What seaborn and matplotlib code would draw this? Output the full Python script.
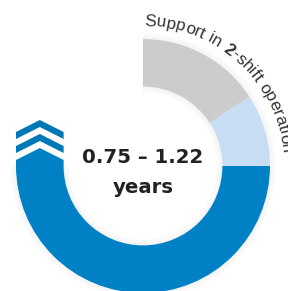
"""Donut chart: support duration in 2-shift operation."""

import matplotlib
matplotlib.use("Agg")
import matplotlib.pyplot as plt
import numpy as np
import seaborn as sns
from matplotlib.patches import Polygon, Wedge

# ring segments (degrees of the circle), drawn from 9 o'clock counter-clockwise
SEGMENTS = ["base", "extended", "remaining", "gap"]
SEGMENT_VALUES = [180, 33, 57, 90]
SEGMENT_COLORS = ["#0081C6", "#C6DDF3", "#CCCCCC", "none"]

CENTER_LINES = ["0.75 \u2013 1.22", "years"]
ARC_PARTS = [("Support in ", "normal"), ("2", "bold"), ("-shift operation", "normal")]

sns.set_style("white")
plt.rcParams["font.family"] = ["Liberation Sans", "DejaVu Sans"]

R_OUT = 1.0
R_IN = 0.625
PX = 1 / 127  # data units per pixel

fig = plt.figure(figsize=(2.88, 2.91), dpi=100)
ax = fig.add_axes([0, 0, 1, 1])

# soft shadow around the ring
for k in range(5):
    ax.add_patch(Wedge((0, 0), R_OUT + (k + 1) * 1.2 * PX, -180, 90,
                       width=1.2 * PX, color="#000000", alpha=0.045 - k * 0.008, lw=0))
    ax.add_patch(Wedge((0, 0), R_IN - k * 1.2 * PX, -180, 90,
                       width=1.2 * PX, color="#000000", alpha=0.045 - k * 0.008, lw=0))

wedges, _ = ax.pie(SEGMENT_VALUES, colors=SEGMENT_COLORS, startangle=180,
                   counterclock=True, radius=R_OUT,
                   wedgeprops=dict(width=R_OUT - R_IN, linewidth=0))
wedges[-1].set_visible(False)

# arrow tip at the start of the blue segment and chevrons above it
cx = -(R_OUT + R_IN) / 2
drop, thick, step = 12 * PX, 7 * PX, 14 * PX
apex = 18 * PX
ax.add_patch(Polygon([(-R_OUT, 0), (-R_OUT, apex - drop), (cx, apex),
                      (-R_IN, apex - drop), (-R_IN, 0)],
                     closed=True, color=SEGMENT_COLORS[0], lw=0))
for i in (1, 2):
    a = apex + i * step
    ax.add_patch(Polygon([(-R_OUT, a - drop), (cx, a), (-R_IN, a - drop),
                          (-R_IN, a - drop - thick), (cx, a - thick),
                          (-R_OUT, a - drop - thick)],
                         closed=True, color="#0077B6", lw=0))

# centre label
ax.text(0, 3.3 * PX, CENTER_LINES[0], ha="center", va="baseline",
        family="DejaVu Sans", fontweight="bold", fontsize=14.2, color="#222222")
ax.text(0, -26.7 * PX, CENTER_LINES[1], ha="center", va="baseline",
        family="DejaVu Sans", fontweight="bold", fontsize=14.2, color="#222222")

# curved label along the outer edge
renderer = fig.canvas.get_renderer()


def _advance(ch, weight, size):
    def w(s):
        t = ax.text(0, 0, s, fontsize=size, fontweight=weight)
        ext = t.get_window_extent(renderer).width
        t.remove()
        return ext
    return w("x" + ch + "x") - w("xx")


r_text = 140 * PX
theta = np.deg2rad(89.5)
size = 12.3
for part, weight in ARC_PARTS:
    for ch in part:
        adv = _advance(ch, weight, size) * PX
        tc = theta - (adv / 2) / r_text
        ax.text(r_text * np.cos(tc), r_text * np.sin(tc), ch,
                rotation=np.rad2deg(tc) - 90, rotation_mode="anchor",
                ha="center", va="baseline", fontsize=size,
                fontweight=weight, color="#333333")
        theta -= adv / r_text

ax.set_xlim(-143 * PX, 145 * PX)
ax.set_ylim(-125 * PX, 166 * PX)
ax.set_aspect("equal")
ax.axis("off")

fig.savefig("out.png", dpi=100)
